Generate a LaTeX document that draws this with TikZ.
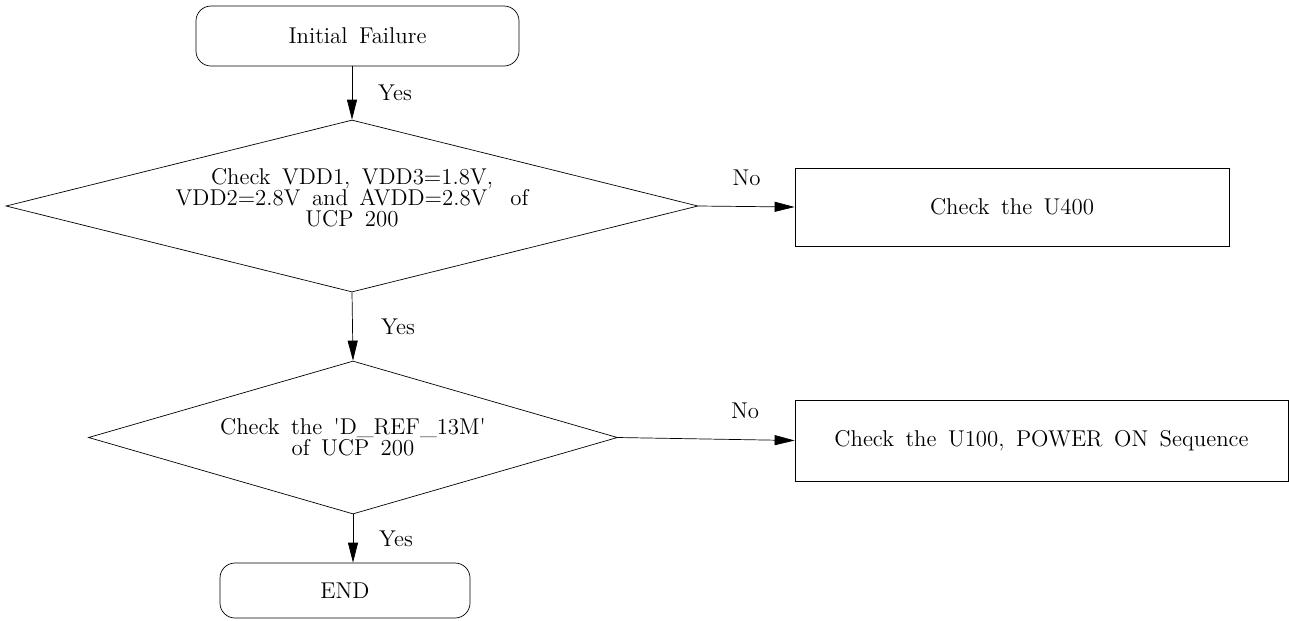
\documentclass[tikz,border=0pt]{standalone}
\usepackage{amsmath, amssymb}
\usepackage{tikz}
\usetikzlibrary{arrows.meta, shapes.geometric}
\usepackage{xcolor}

\newcommand{\flowfont}{\fontsize{13}{11.8}\selectfont\spaceskip=0.5em\relax}

\tikzset{
  endbox/.style={draw, rounded corners=0.3cm, align=center},
  checkbox/.style={draw, align=center},
  decision/.style={draw, diamond, inner sep=0pt, align=center},
  flow/.style={-{Triangle[length=0.4cm,width=0.2cm]}},
  answer/.style={font=\flowfont}
}

\begin{document}
\begin{tikzpicture}[font=\flowfont]
\useasboundingbox (0,0) rectangle (25.78,-12.4);

\node[endbox, minimum width=6.46cm, minimum height=1.2cm] (init) at (7.15,-0.72) {Initial Failure};

\node[decision, shape aspect=4.02, minimum width=13.84cm, minimum height=3.44cm] (vdd) at (7.04,-4.12) {};
\node[align=center] (vddtext) at ([yshift=0.17cm]vdd.center) {Check VDD1, VDD3=1.8V,\\VDD2=2.8V and AVDD=2.8V\ \ of\\UCP 200};

\node[checkbox, minimum width=8.68cm, minimum height=1.56cm] (u400) at (20.24,-4.14) {Check the U400};

\node[decision, shape aspect=3.46, minimum width=10.58cm, minimum height=3.06cm] (dref) at (7.06,-8.75) {Check the \textquotesingle D\_REF\_13M\textquotesingle\\of UCP 200};

\node[checkbox, minimum width=9.86cm, minimum height=1.62cm] (u100) at (20.83,-8.81) {Check the U100, POWER ON Sequence};

\node[endbox, minimum width=5.0cm, minimum height=1.1cm] (end) at (6.9,-11.81) {END};

%\draw (vdd.west) -- (vdd.east);

\draw[flow] (init.south -| vdd.north) -- node[answer, right=0.4cm] (yes1) {Yes} (vdd.north);

\draw[flow] (vdd.east) -- node[answer, above=0.3cm] (no1) {No} (u400.west);

\draw[flow] (vdd.south) -- node[answer, right=0.45cm] (yes2) {Yes} (dref.north);

\draw[flow] (dref.east) -- node[answer, above=0.3cm, pos=0.72] (no2) {No} (u100.west);

\draw[flow] (dref.south) -- node[answer, right=0.4cm] (yes3) {Yes} (dref.south |- end.north);
\end{tikzpicture}
\end{document}
